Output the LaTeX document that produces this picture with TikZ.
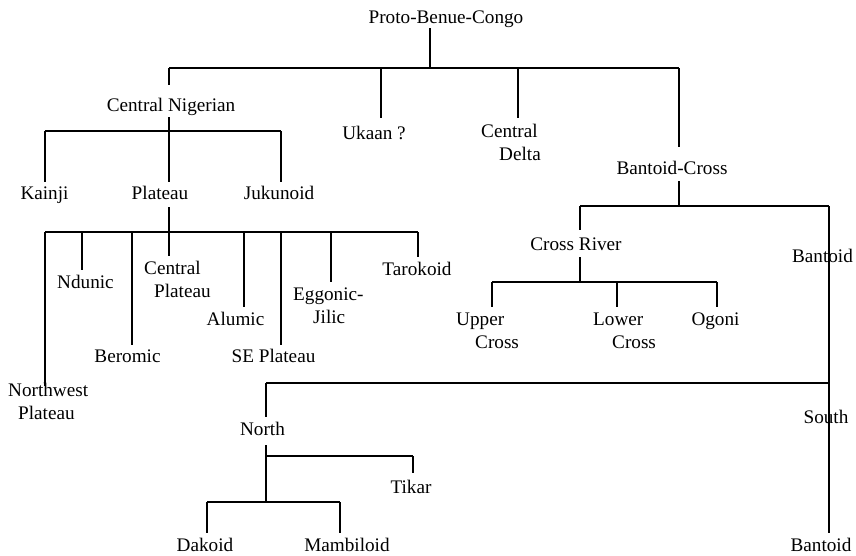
\documentclass[tikz,border=0pt]{standalone}
\usepackage{fontspec}
\setmainfont{Liberation Serif}
\newcommand{\twol}[3]{\begin{tabular}[t]{@{}l@{}}#1\\\hspace{#2pt}#3\end{tabular}}
\begin{document}
\begin{tikzpicture}[x=1pt,y=-1pt,
  lbl/.style={font=\fontsize{19.2}{23}\selectfont, inner sep=0pt, anchor=base},
  lbltwo/.style={font=\fontsize{19.2}{23}\selectfont, inner sep=0pt, anchor=base west},
  conn/.style={draw=black, line width=1.2pt}]
\useasboundingbox (0,0) rectangle (856,555);
% ---------- labels ----------
\node[lbl] (pbc) at (446,23) {Proto-Benue-Congo};
\node[lbl] (cn) at (171,111) {Central Nigerian};
\node[lbl] (uk) at (374,139) {Ukaan ?};
\node[lbltwo] (cd) at (481,137) {\twol{Central}{18}{Delta}};
\node[lbl] (bc) at (672,174) {Bantoid-Cross};
\node[lbl] (ka) at (44.5,199) {Kainji};
\node[lbl] (pl) at (160,199) {Plateau};
\node[lbl] (ju) at (279,199) {Jukunoid};
\node[lbl] (nd) at (85.5,288) {Ndunic};
\node[lbltwo] (cp) at (144,274) {\twol{Central}{10}{Plateau}};
\node[lbl] (be) at (127.5,362) {Beromic};
\node[lbl] (al) at (235.5,325) {Alumic};
\node[lbl] (se) at (273.5,362) {SE Plateau};
\node[lbltwo] (eg) at (293,300) {\twol{Eggonic-}{20}{Jilic}};
\node[lbl] (ta) at (417,275) {Tarokoid};
\node[lbltwo] (nw) at (8,396) {\twol{Northwest}{10}{Plateau}};
\node[lbl] (cr) at (576,250) {Cross River};
\node[lbl] (ba) at (822.5,262) {Bantoid};
\node[lbltwo] (uc) at (456,325) {\twol{Upper}{19}{Cross}};
\node[lbltwo] (lc) at (593,325) {\twol{Lower}{19}{Cross}};
\node[lbl] (og) at (715.5,325) {Ogoni};
\node[lbl] (so) at (826,423) {South};
\node[lbl] (no) at (262.5,435) {North};
\node[lbl] (ti) at (411,493) {Tikar};
\node[lbl] (da) at (205,551) {Dakoid};
\node[lbl] (ma) at (347,551) {Mambiloid};
\node[lbl] (bb) at (821,551) {Bantoid};
% ---------- junction coordinates ----------
\coordinate (pbcS) at (430,28);
\coordinate (t0) at (430,68);
\coordinate (tL) at (169,68);
\coordinate (tU) at (381,68);
\coordinate (tD) at (518,68);
\coordinate (tR) at (679,68);
\coordinate (cnN) at (169,85);
\coordinate (ukN) at (381,118);
\coordinate (cdN) at (518,118);
\coordinate (bcN) at (679,147);
\coordinate (cnS) at (169,117);
\coordinate (h1) at (169,131);
\coordinate (h1L) at (45,131);
\coordinate (h1R) at (281,131);
\coordinate (kaN) at (45,182);
\coordinate (plN) at (169,182);
\coordinate (juN) at (281,182);
\coordinate (plS) at (169,207);
\coordinate (h2) at (169,232);
\coordinate (h2L) at (45,232);
\coordinate (h2nd) at (82,232);
\coordinate (h2be) at (132,232);
\coordinate (h2al) at (244,232);
\coordinate (h2se) at (281,232);
\coordinate (h2eg) at (331,232);
\coordinate (h2R) at (418,232);
\coordinate (nwN) at (45,386);
\coordinate (ndN) at (82,270);
\coordinate (beN) at (132,345);
\coordinate (cpN) at (169,256);
\coordinate (alN) at (244,307);
\coordinate (seN) at (281,345);
\coordinate (egN) at (331,282);
\coordinate (taN) at (418,257);
\coordinate (bcS) at (679,181);
\coordinate (h3) at (679,206);
\coordinate (h3L) at (580,206);
\coordinate (h3R) at (829,206);
\coordinate (crN) at (580,230);
\coordinate (crS) at (580,257);
\coordinate (h4) at (580,282);
\coordinate (h4L) at (492,282);
\coordinate (h4M) at (617,282);
\coordinate (h4R) at (717,282);
\coordinate (ucN) at (492,307);
\coordinate (lcN) at (617,307);
\coordinate (ogN) at (717,307);
\coordinate (h5R) at (829,383);
\coordinate (h5L) at (266,383);
\coordinate (bbN) at (829,533);
\coordinate (noN) at (266,417);
\coordinate (noS) at (266,445);
\coordinate (h6) at (266,456);
\coordinate (h6R) at (413,456);
\coordinate (tiN) at (413,473);
\coordinate (h7) at (266,502);
\coordinate (h7L) at (207,502);
\coordinate (h7R) at (340,502);
\coordinate (daN) at (207,533);
\coordinate (maN) at (340,533);
% ---------- connectors ----------
\draw[conn] (pbcS) -- (t0);
\draw[conn] (tL) -- (tR);
\draw[conn] (tL) -- (cnN);
\draw[conn] (tU) -- (ukN);
\draw[conn] (tD) -- (cdN);
\draw[conn] (tR) -- (bcN);
\draw[conn] (cnS) -- (plN);
\draw[conn] (h1L) -- (h1R);
\draw[conn] (h1L) -- (kaN);
\draw[conn] (h1R) -- (juN);
\draw[conn] (plS) -- (cpN);
\draw[conn] (h2L) -- (h2R);
\draw[conn] (h2L) -- (nwN);
\draw[conn] (h2nd) -- (ndN);
\draw[conn] (h2be) -- (beN);
\draw[conn] (h2al) -- (alN);
\draw[conn] (h2se) -- (seN);
\draw[conn] (h2eg) -- (egN);
\draw[conn] (h2R) -- (taN);
\draw[conn] (bcS) -- (h3);
\draw[conn] (h3L) -- (h3R);
\draw[conn] (h3L) -- (crN);
\draw[conn] (h3R) -- (bbN);
\draw[conn] (crS) -- (h4);
\draw[conn] (h4L) -- (h4R);
\draw[conn] (h4L) -- (ucN);
\draw[conn] (h4M) -- (lcN);
\draw[conn] (h4R) -- (ogN);
\draw[conn] (h5L) -- (h5R);
\draw[conn] (h5L) -- (noN);
\draw[conn] (noS) -- (h7);
\draw[conn] (h6) -- (h6R);
\draw[conn] (h6R) -- (tiN);
\draw[conn] (h7L) -- (h7R);
\draw[conn] (h7L) -- (daN);
\draw[conn] (h7R) -- (maN);
\end{tikzpicture}
\end{document}
